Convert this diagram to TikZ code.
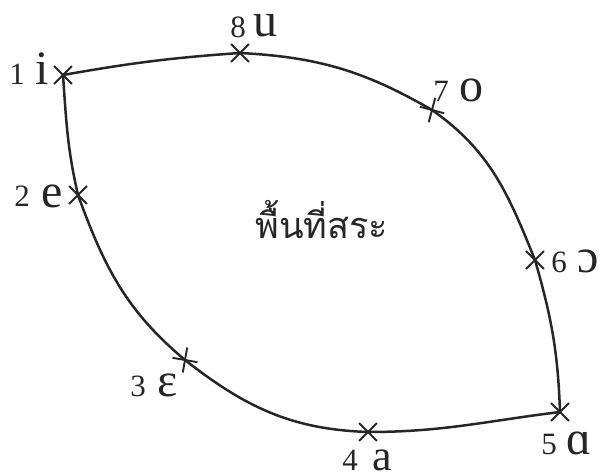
\documentclass[tikz,border=0pt]{standalone}
\usepackage{fontspec}
\setmainfont{Liberation Serif}
\newfontfamily\thaifont[Script=Thai]{Loma}
\usetikzlibrary{shapes.misc}
\begin{document}
\begin{tikzpicture}[x=1pt,y=1pt,
  vmark/.style={cross out, draw=black!85, line width=1.9pt, minimum size=16pt, inner sep=0pt},
  digit/.style={anchor=base, inner sep=0pt, text depth=0pt, text=black!85, font=\fontsize{31}{33}\selectfont},
  vowel/.style={anchor=base, inner sep=0pt, text depth=0pt, text=black!85, font=\fontsize{48}{52}\selectfont},
  curve/.style={draw=black!85, line width=2.5pt, line join=round}
]
\useasboundingbox (0,0) rectangle (602,476);
% vowel positions
\node[vmark] (p1) at (63,401) {};
\node[vmark] (p8) at (240,423) {};
\node[vmark, rotate=30] (p7) at (432,366) {};
\node[vmark] (p6) at (535,216) {};
\node[vmark] (p5) at (560,64) {};
\node[vmark] (p4) at (368,44) {};
\node[vmark, rotate=35] (p3) at (185,116) {};
\node[vmark] (p2) at (78,281) {};
% outline
\draw[curve] (p1.center) to[out=10,in=184] (p8.center)
  to[out=-3,in=150] (p7.center)
  to[out=-35,in=112] (p6.center)
  to[out=-74,in=92] (p5.center)
  to[out=187,in=0] (p4.center)
  to[out=178,in=-38] (p3.center)
  to[out=140,in=-70] (p2.center)
  to[out=103,in=-86] (p1.center);
% labels
\node[digit] (d1) at (17,391) {1};
\node[vowel] (v1) at (42,391) {i};
\node[digit] (d2) at (22,269) {2};
\node[vowel] (v2) at (52,268) {e};
\node[digit] (d3) at (138,79) {3};
\node[vowel] (v3) at (168,79) {ɛ};
\node[digit] (d4) at (350,5) {4};
\node[vowel, font=\fontsize{44}{48}\selectfont] (v4) at (382,5) {a};
\node[digit] (d5) at (549,21) {5};
\node[vowel] (v5) at (579,21) {ɑ};
\node[digit] (d6) at (559,203) {6};
\node[vowel] (v6) at (588,203) {ɔ};
\node[digit] (d7) at (441,374) {7};
\node[vowel] (v7) at (471,374) {o};
\node[digit] (d8) at (238,438) {8};
\node[vowel] (v8) at (265,439) {u};
\node[anchor=base, inner sep=0pt, text=black!85, font=\thaifont\fontsize{36}{40}\selectfont] (area) at (322,237) {พื้นที่สระ};
\end{tikzpicture}
\end{document}
